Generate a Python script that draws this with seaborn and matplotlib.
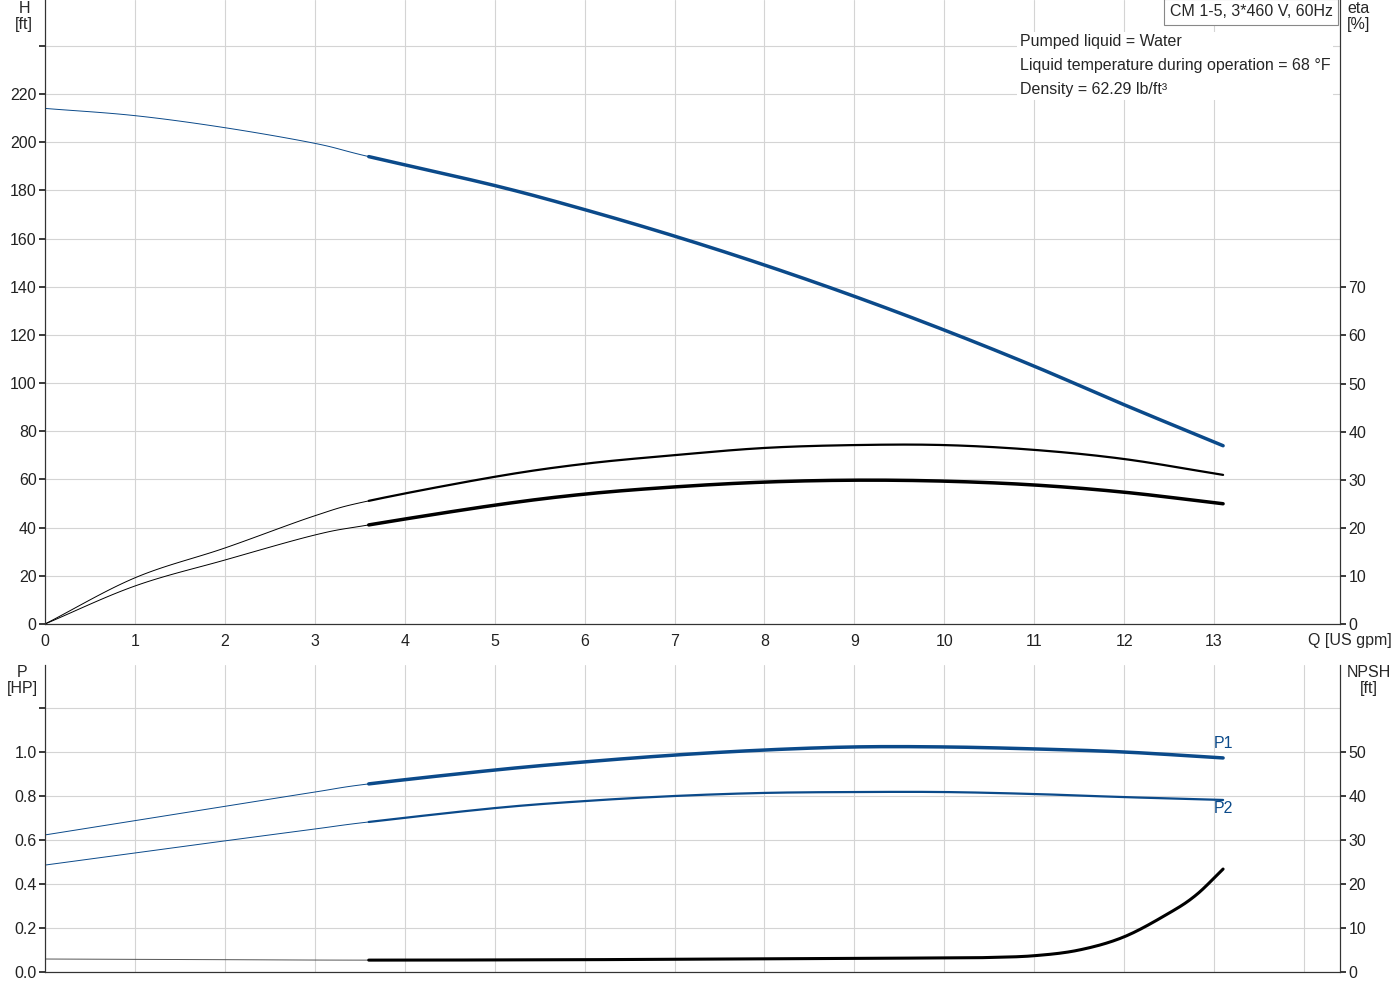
import matplotlib
matplotlib.use("Agg")
import matplotlib.pyplot as plt
import seaborn as sns
import numpy as np
import pandas as pd

sns.set_theme(style="white")
plt.rcParams['font.family'] = ['Liberation Sans', 'DejaVu Sans']

Q = [0, 1, 2, 3, 3.6, 5, 6, 7, 8, 9, 10, 11, 12, 13.1]
H = [214, 211, 206, 199.5, 194, 182, 172, 161, 149, 136, 122, 107, 91, 74]
eta1 = [0, 9.6, 15.8, 22.5, 25.6, 30.6, 33.3, 35.1, 36.6, 37.2, 37.2, 36.2, 34.3, 31]
eta2 = [0, 7.9, 13.3, 18.5, 20.6, 24.7, 27, 28.5, 29.5, 29.9, 29.7, 28.9, 27.4, 25]
P1 = [0.623, 0.688, 0.753, 0.818, 0.855, 0.918, 0.955, 0.986, 1.009, 1.023, 1.023, 1.014, 1.0, 0.973]
P2 = [0.486, 0.541, 0.596, 0.650, 0.682, 0.745, 0.777, 0.800, 0.814, 0.818, 0.818, 0.809, 0.795, 0.782]
Qn = [0, 2, 3.6, 6, 8, 10, 10.5, 11, 11.5, 12, 12.5, 12.8, 13.1]
NPSH = [2.95, 2.8, 2.7, 2.8, 3.0, 3.2, 3.3, 3.7, 5.0, 8.0, 13.4, 17.5, 23.4]
Qsplit = 3.6

blue = "#0b4a8a"

def spline(x, y, n=20):
    # Catmull-Rom (centripetal-free, uniform) through the read points
    x = np.asarray(x, float); y = np.asarray(y, float)
    px = np.concatenate([[2*x[0]-x[1]], x, [2*x[-1]-x[-2]]])
    py = np.concatenate([[2*y[0]-y[1]], y, [2*y[-1]-y[-2]]])
    xs, ys = [], []
    t = np.linspace(0, 1, n, endpoint=False)
    for i in range(1, len(px)-2):
        for arr, out in ((px, xs), (py, ys)):
            p0, p1, p2, p3 = arr[i-1], arr[i], arr[i+1], arr[i+2]
            out.extend(0.5*((2*p1) + (-p0+p2)*t + (2*p0-5*p1+4*p2-p3)*t**2 + (-p0+3*p1-3*p2+p3)*t**3))
    xs.append(x[-1]); ys.append(y[-1])
    return np.array(xs), np.array(ys)

fig = plt.figure(figsize=(14, 10), dpi=100)
ax = fig.add_axes([45/1400, 0.376, 1295/1400, 0.624])
ax2 = ax.twinx()
bx = fig.add_axes([45/1400, 0.028, 1295/1400, 0.307])
bx2 = bx.twinx()

def draw(a, x, y, color, lw, thin_color=None):
    xs, ys = spline(x, y)
    df = pd.DataFrame({"Q": xs, "v": ys})
    lo = df[df.Q <= Qsplit + 1e-9]
    hi = df[df.Q >= Qsplit - 1e-9]
    sns.lineplot(data=lo, x="Q", y="v", ax=a, color=thin_color or color, lw=0.7, estimator=None, sort=False)
    sns.lineplot(data=hi, x="Q", y="v", ax=a, color=color, lw=lw, estimator=None, sort=False)

draw(ax, Q, H, blue, 2.5)
draw(ax2, Q, eta1, "black", 1.6)
draw(ax2, Q, eta2, "black", 2.5)
draw(bx, Q, P1, blue, 2.5)
draw(bx, Q, P2, blue, 1.6)
draw(bx2, Qn, NPSH, "black", 2.2, thin_color="#555555")

xmax = 14.4
for a in (ax, ax2, bx, bx2):
    a.set_xlim(0, xmax)
    a.set_xlabel(""); a.set_ylabel("")
    for s in a.spines.values():
        s.set_color("#333333"); s.set_linewidth(0.8)
    a.spines['top'].set_visible(False)

ax.set_ylim(0, 259)
ax2.set_ylim(0, 624 / 4.81)
ax.set_yticks(range(0, 241, 20))
ax.set_yticklabels([str(v) if v <= 220 else "" for v in range(0, 241, 20)])
ax2.set_yticks(range(0, 71, 10))
ax.set_xticks(range(0, 14))
ax.grid(True, color="#d4d4d4", lw=0.8)
ax.set_axisbelow(True)

bx.set_ylim(0, 307 / 220)
bx2.set_ylim(0, 307 / 4.4)
bx.set_yticks([0, 0.2, 0.4, 0.6, 0.8, 1.0, 1.2])
bx.set_yticklabels(["0.0", "0.2", "0.4", "0.6", "0.8", "1.0", ""])
bx2.set_yticks(range(0, 51, 10))
bx.set_xticks(range(0, 15))
bx.set_xticklabels([])
bx.grid(True, color="#d4d4d4", lw=0.8)
bx.set_axisbelow(True)

for a in (ax, ax2, bx, bx2):
    a.tick_params(axis='both', which='both', length=4, labelsize=11.5, colors="#222222", direction="out")
    a.tick_params(axis='y', pad=2)
bx.tick_params(axis='x', length=0)

fs = 11.5
fig.text(24/1400, 1 - 1/1000, "H\n[ft]", ha="center", va="top", fontsize=fs, linespacing=1.05)
fig.text(1359/1400, 1 - 1/1000, "eta\n[%]", ha="center", va="top", fontsize=fs, linespacing=1.05)
fig.text(1 - 8/1400, 1 - 640/1000, "Q [US gpm]", ha="right", va="center", fontsize=fs)
fig.text(22/1400, 1 - 665/1000, "P\n[HP]", ha="center", va="top", fontsize=fs, linespacing=1.05)
fig.text(1369/1400, 1 - 665/1000, "NPSH\n[ft]", ha="center", va="top", fontsize=fs, linespacing=1.05)
fig.text(1251/1400, 1 - 12/1000, "CM 1-5, 3*460 V, 60Hz", ha="center", va="center", fontsize=fs,
         bbox=dict(boxstyle="square,pad=0.35", fc="white", ec="#888888", lw=0.8))
ax.text(0.753, 0.945, "Pumped liquid = Water\nLiquid temperature during operation = 68 °F\nDensity = 62.29 lb/ft³",
        transform=ax.transAxes, ha="left", va="top", fontsize=fs, linespacing=1.75,
        bbox=dict(fc="white", ec="none", pad=2))
bx.text(13.0, 1.04, "P1", color=blue, fontsize=fs, ha="left", va="center")
bx.text(13.0, 0.745, "P2", color=blue, fontsize=fs, ha="left", va="center")

fig.savefig("out.png", dpi=100)
